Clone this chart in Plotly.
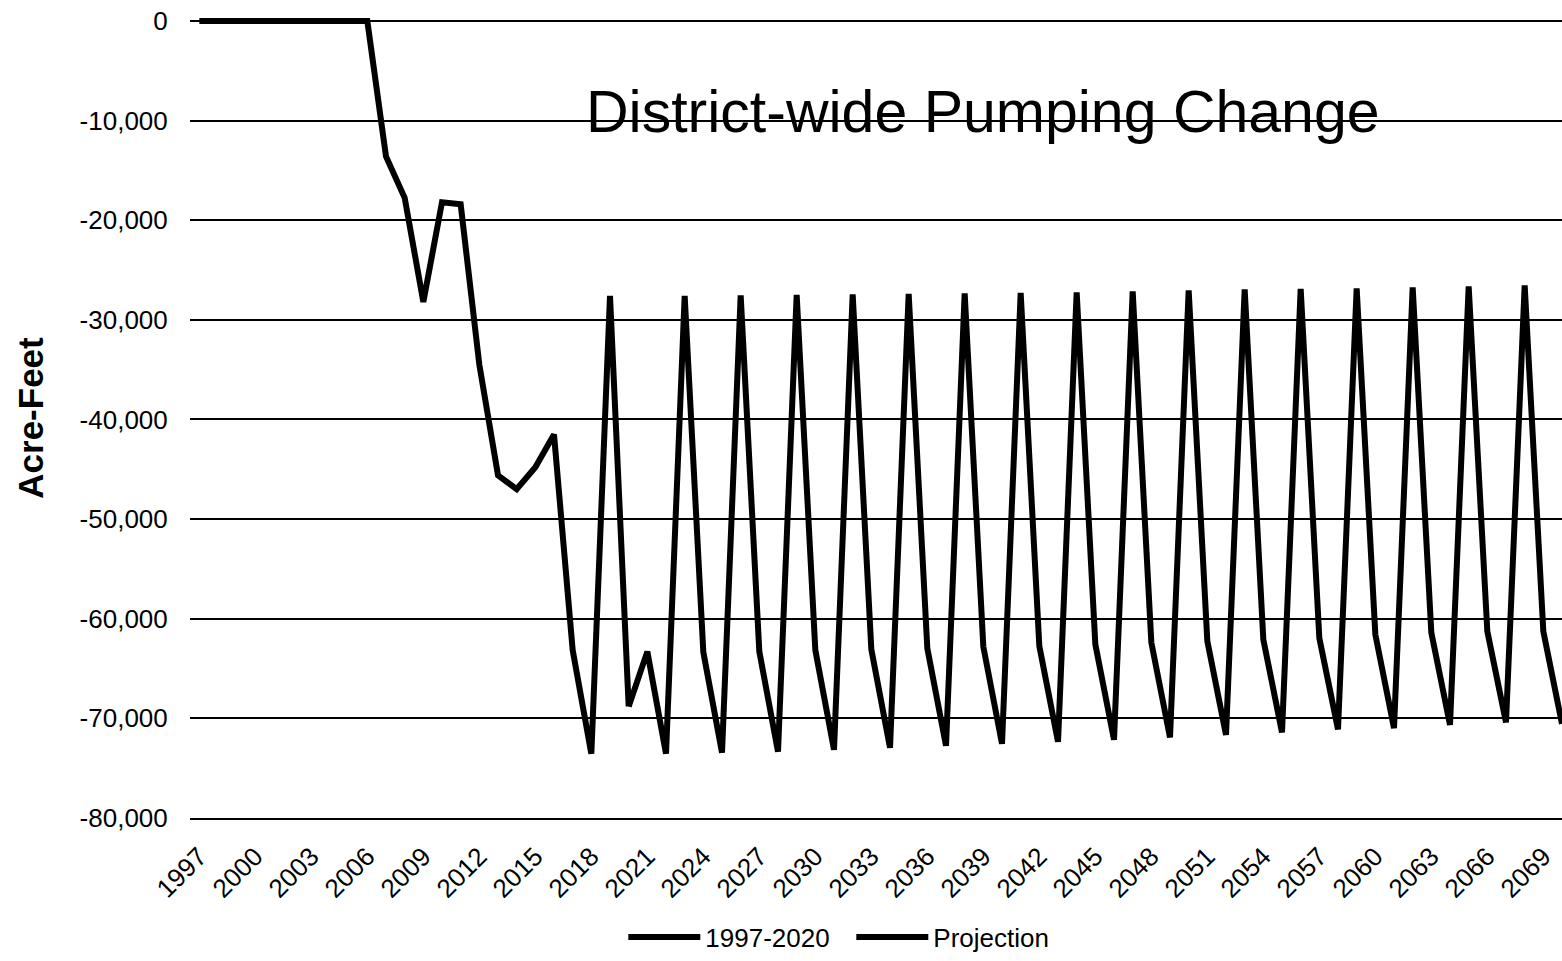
import plotly.graph_objects as go

years = list(range(1997, 2071))
pumping_change = [
    0, 0, 0, 0, 0, 0, 0, 0, 0, 0,            # 1997-2006
    -13600, -17750, -28200, -18200, -18400,  # 2007-2011
    -34500, -45600, -47000, -44800, -41500,  # 2012-2016
    -63150, -73550, -27600, -68800,          # 2017-2020
    -63300, -73550, -27600,                  # 2021-2023
    -63350, -73450, -27550,                  # 2024-2026
    -63300, -73350, -27500,                  # 2027-2029
    -63150, -73150, -27450,                  # 2030-2032
    -63080, -72950, -27400,                  # 2033-2035
    -62980, -72750, -27350,                  # 2036-2038
    -62810, -72550, -27300,                  # 2039-2041
    -62750, -72350, -27250,                  # 2042-2044
    -62580, -72150, -27150,                  # 2045-2047
    -62380, -71900, -27050,                  # 2048-2050
    -62250, -71650, -26950,                  # 2051-2053
    -62090, -71400, -26900,                  # 2054-2056
    -61940, -71100, -26850,                  # 2057-2059
    -61580, -70970, -26750,                  # 2060-2062
    -61400, -70650, -26650,                  # 2063-2065
    -61260, -70400, -26550,                  # 2066-2068
    -61260, -70550,                          # 2069-2070
]
hist_end = 2020
series_names = ["1997-2020", "Projection"]
title_text = "District-wide Pumping Change"
y_title = "Acre-Feet"
x_tickvals = list(range(1997, 2070, 3))
y_tickvals = list(range(-80000, 1, 10000))
y_ticktext = [f"{v:,}" for v in y_tickvals]

hist_x = [y for y in years if y <= hist_end]
hist_y = pumping_change[:len(hist_x)]
proj_x = [y for y in years if y >= hist_end]
proj_y = pumping_change[len(hist_x) - 1:]

FONT = "Liberation Sans, Arial, sans-serif"

fig = go.Figure()
fig.add_trace(go.Scatter(x=hist_x, y=hist_y, mode="lines", name=series_names[0],
                         line=dict(color="black", width=6)))
fig.add_trace(go.Scatter(x=proj_x, y=proj_y, mode="lines", name=series_names[1],
                         line=dict(color="black", width=6)))

fig.update_layout(
    width=1562, height=961,
    margin=dict(l=190, r=0, t=18, b=136),
    paper_bgcolor="white", plot_bgcolor="white",
    font=dict(family=FONT, size=26, color="black"),
    showlegend=True,
    legend=dict(orientation="h", x=0.482, xanchor="center", y=-0.149, yanchor="middle",
                font=dict(family=FONT, size=26, color="black"), itemwidth=72,
                entrywidth=141, traceorder="normal"),
    annotations=[dict(text=title_text, x=0.578, y=0.883, xref="paper", yref="paper",
                      xanchor="center", yanchor="middle", showarrow=False,
                      font=dict(family=FONT, size=59, color="black"))],
)
fig.update_xaxes(range=[1996.5, 2070], tickmode="array", tickvals=x_tickvals,
                 ticktext=[str(v) for v in x_tickvals], tickangle=-45,
                 showgrid=False, zeroline=False, showline=True, linecolor="black",
                 linewidth=2, ticks="outside", ticklen=11, tickcolor="rgba(0,0,0,0)",
                 tickfont=dict(family=FONT, size=26, color="black"))
fig.update_yaxes(range=[-80000, 300], tickmode="array", tickvals=y_tickvals,
                 ticktext=y_ticktext, showgrid=True, gridcolor="black", gridwidth=2,
                 zeroline=False, showline=False, ticks="outside", ticklen=16,
                 tickcolor="rgba(0,0,0,0)",
                 tickfont=dict(family=FONT, size=26, color="black"),
                 title=dict(text="<b>" + y_title + "</b>", standoff=25,
                            font=dict(family=FONT, size=35, color="black")))

fig.write_html("out.html")
